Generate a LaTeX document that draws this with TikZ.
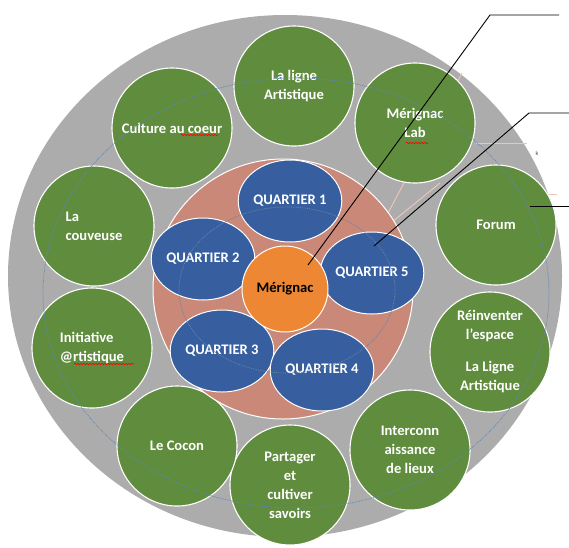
\documentclass[tikz,border=0pt]{standalone}
\usepackage{fontspec}
\setmainfont{Carlito}
\usepackage{xcolor}
\usepackage{tikz}
\usetikzlibrary{shapes.geometric,calc,decorations.pathmorphing}
\definecolor{ringgray}{RGB}{172,172,172}
\definecolor{leafgreen}{RGB}{96,140,62}
\definecolor{coreblue}{RGB}{55,95,160}
\definecolor{coresalmon}{RGB}{201,136,120}
\definecolor{cityorange}{RGB}{238,135,52}
\definecolor{guideblue}{RGB}{95,135,180}
\definecolor{palesalmon}{RGB}{236,196,184}

\begin{document}
\begin{tikzpicture}[x=1pt, y=-1pt]
    \tikzset{theme/.style={draw=white, line width=1.1pt, circle, fill=leafgreen, minimum size=120pt, inner sep=0pt, text=white, font=\fontsize{14.6pt}{19pt}\selectfont\bfseries, align=center}}
    \tikzset{quart/.style={draw=white, line width=1pt, ellipse, fill=coreblue, minimum width=84pt, minimum height=82pt, inner sep=0pt, text=white, font=\fontsize{14.6pt}{19pt}\selectfont\bfseries}}
    \tikzset{callout/.style={draw=black, line width=0.9pt}}
    \tikzset{ghost/.style={draw=palesalmon, line width=1pt}}
    \tikzset{squiggle/.style={draw=red, line width=0.6pt, decorate, decoration={snake, segment length=3pt, amplitude=0.8pt}}}

    \useasboundingbox (0,0) rectangle (569,547);
    \fill[ringgray] (285,276) ellipse [x radius=277pt, y radius=261pt];

    \draw[ghost] (378,232) -- (462,73);
    \draw[ghost] (392,222) -- (440,183);
    \draw[ghost] (476,143) -- (527,143);
    \draw[ghost] (548,194) -- (557,194);

    \node[theme] (ligne) at (294,86) {La ligne\\Artistique};
    \node[theme] (lab) at (415,123) {Mérignac\\Lab};
    \node[theme] (forum) at (496,225) {Forum};
    \node[theme] (reinv) at (490,352) {Réinventer\\l’espace\\[13pt]La Ligne\\Artistique};
    \node[theme] (inter) at (410,450) {Interconn\\aissance\\de lieux};
    \node[theme] (partage) at (290,485) {Partager\\et\\cultiver\\savoirs};
    \node[theme] (cocon) at (177,446) {Le Cocon};
    \node[theme, align=left] (initiative) at (92,348) {Initiative\\@rtistique};
    \node[theme, align=left] (couveuse) at (94,226) {La\\couveuse};
    \node[theme] (culture) at (172,128) {Culture au coeur};

    \draw[guideblue, densely dotted, line width=0.8pt] (296,293) ellipse [x radius=253pt, y radius=215pt];

    \node[draw=white, line width=1pt, circle, fill=coresalmon, minimum size=260pt] (district) at (283,289) {};

    \node[quart, minimum width=89pt] (q1) at (290,201) {QUARTIER 1};
    \node[quart] (q2) at (203,259) {QUARTIER 2};
    \node[quart] (q3) at (222,351) {QUARTIER 3};
    \node[quart, minimum width=89pt] (q4) at (322,370) {QUARTIER 4};
    \node[quart] (q5) at (372,273) {QUARTIER 5};
    \node[quart, fill=cityorange, text=black, minimum width=86pt, minimum height=86pt] (mer) at (285,289) {Mérignac};

    \draw[guideblue!70!gray, densely dotted, line width=0.8pt] (287,290) ellipse [x radius=108pt, y radius=83pt];

    \coordinate (t1) at (559,15);
    \coordinate (k1) at (490,15);
    \coordinate (e1) at ($(mer)+(23,-24)$);
    \coordinate (t2) at (569,113);
    \coordinate (k2) at (529,113);
    \coordinate (e2) at ($(q5)+(2,-27)$);
    \coordinate (t3) at (569,206);
    \coordinate (e3) at ($(forum)+(34,-19)$);
    \draw[callout] (t1) -- (k1) -- (e1);
    \draw[callout] (t2) -- (k2) -- (e2);
    \draw[callout] (t3) -- (e3);

    \draw[squiggle] (181,135) -- (218,135);
    \draw[squiggle] (406,143) -- (428,143);
    \draw[squiggle] (74,364) -- (134,364);

    \node[text=gray!60!black, font=\fontsize{6pt}{6pt}\selectfont] (stray) at (537,153) {k};
\end{tikzpicture}
\end{document}
